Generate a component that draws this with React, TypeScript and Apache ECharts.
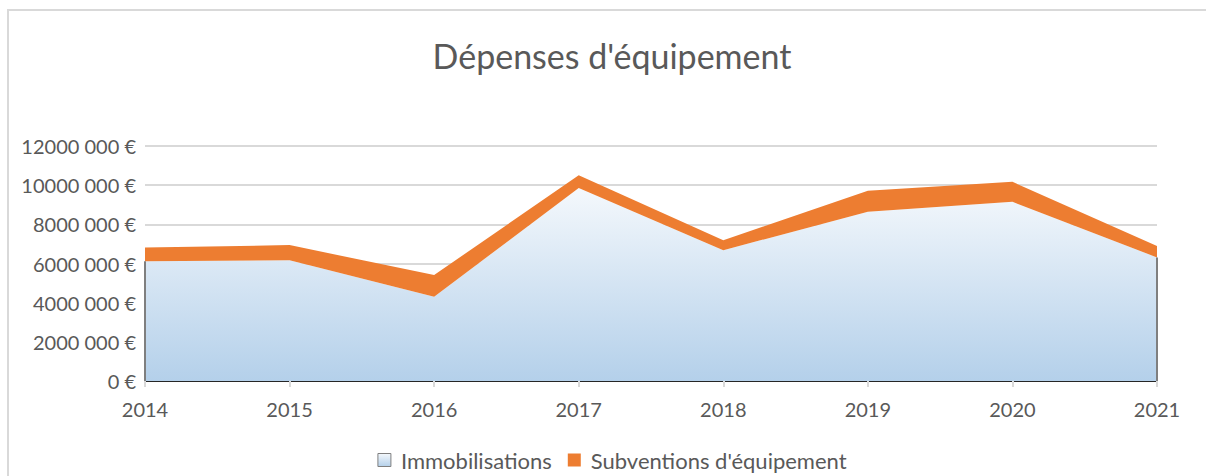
import React, { useEffect, useRef } from "react";
import * as echarts from "echarts";

const years = ["2014", "2015", "2016", "2017", "2018", "2019", "2020", "2021"];
const immobilisations = [6120000, 6170000, 4300000, 9860000, 6680000, 8640000, 9150000, 6310000];
const subventions = [700000, 770000, 1110000, 650000, 510000, 1070000, 1020000, 580000];
const seriesNames = ["Immobilisations", "Subventions d'équipement"];
const chartTitle = "Dépenses d'équipement";

const FONT = "Lato, 'Open Sans', sans-serif";

export default function App() {
  const ref = useRef<HTMLDivElement>(null);
  useEffect(() => {
    if (!ref.current) return;
    const chart = echarts.init(ref.current, null, { renderer: "svg" });
    const fmt = (v: number) => (v === 0 ? "0 €" : `${v / 1000} 000 €`);
    const blueGrad = () =>
      new echarts.graphic.LinearGradient(0, 0, 0, 1, [
        { offset: 0, color: "#f4f8fc" },
        { offset: 1, color: "#b4d0ea" },
      ]);
    chart.setOption({
      animation: false,
      backgroundColor: "#ffffff",
      textStyle: { fontFamily: FONT },
      title: {
        text: chartTitle,
        left: "center",
        top: 33,
        textStyle: { fontFamily: FONT, fontSize: 34, fontWeight: "normal", color: "#595959" },
      },
      graphic: [
        {
          type: "rect",
          shape: { x: 8, y: 10, width: 1400, height: 700 },
          style: { fill: "none", stroke: "#d9d9d9", lineWidth: 2 },
          silent: true,
          z: -1,
        },
      ],
      legend: {
        bottom: 0,
        left: "center",
        icon: "rect",
        itemWidth: 13,
        itemHeight: 13,
        itemGap: 16,
        textStyle: { fontFamily: FONT, fontSize: 22, color: "#595959", padding: [0, 0, 0, 5] },
        data: [
          {
            name: seriesNames[0],
            itemStyle: { color: blueGrad(), borderColor: "#7f7f7f", borderWidth: 1 },
          },
          { name: seriesNames[1], itemStyle: { color: "#ed7d31" } },
        ],
      },
      grid: { left: 145, right: 67, top: 146, bottom: 95, containLabel: false },
      xAxis: {
        type: "category",
        data: years,
        boundaryGap: false,
        axisLine: { show: true, lineStyle: { color: "#262626", width: 1 } },
        axisTick: { show: true, length: 6, lineStyle: { color: "#d9d9d9", width: 2 } },
        axisLabel: { fontFamily: FONT, fontSize: 20, color: "#595959", margin: 18 },
      },
      yAxis: {
        type: "value",
        min: 0,
        max: 12000000,
        interval: 2000000,
        axisLine: { show: false },
        axisTick: { show: false },
        splitLine: { lineStyle: { color: "#d9d9d9", width: 2 } },
        axisLabel: { fontFamily: FONT, fontSize: 20, color: "#595959", margin: 9, formatter: fmt },
      },
      series: [
        {
          name: seriesNames[0],
          type: "line",
          stack: "total",
          data: immobilisations,
          symbol: "none",
          lineStyle: { width: 0 },
          areaStyle: { opacity: 1, color: blueGrad() },
          markLine: {
            silent: true,
            symbol: "none",
            label: { show: false },
            lineStyle: { color: "#7f7f7f", width: 2, type: "solid" },
            data: [
              [{ coord: [0, 0] }, { coord: [0, immobilisations[0]] }],
              [
                { coord: [years.length - 1, 0] },
                { coord: [years.length - 1, immobilisations[years.length - 1]] },
              ],
            ],
          },
          z: 2,
        },
        {
          name: seriesNames[1],
          type: "line",
          stack: "total",
          data: subventions,
          symbol: "none",
          lineStyle: { width: 0 },
          areaStyle: { opacity: 1, color: "#ed7d31" },
          z: 2,
        },
      ],
    });
    return () => chart.dispose();
  }, []);
  return (
    <div
      ref={ref}
      style={{ position: "fixed", left: 0, top: 0, width: 1224, height: 476 }}
    />
  );
}
